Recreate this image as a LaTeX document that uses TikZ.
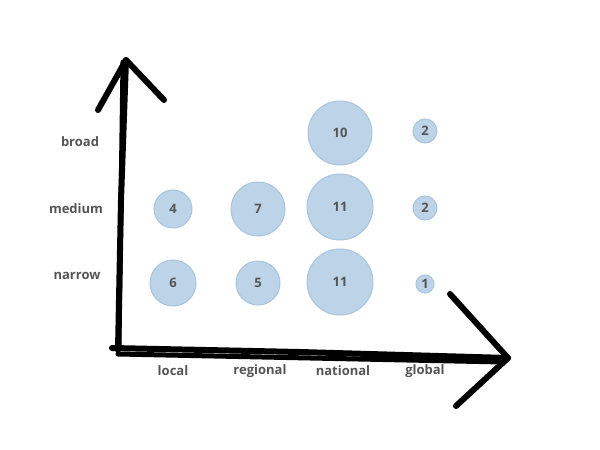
\documentclass[tikz,border=0pt]{standalone}
\usepackage{fontspec}
\setmainfont{Open Sans}
\definecolor{bfill}{HTML}{BCD3E8}
\definecolor{bdraw}{HTML}{A8C4E0}
\definecolor{tx}{HTML}{555555}
\begin{document}
\begin{tikzpicture}[x=1pt,y=-1pt,
  bub/.style={circle,fill=bfill,draw=bdraw,line width=1pt,inner sep=0pt,font=\fontsize{13}{14}\bfseries\selectfont,text=tx},
  lab/.style={font=\fontsize{13}{14}\bfseries\selectfont,text=tx},
  brush/.style={line width=6pt,line cap=round,line join=round}]
\useasboundingbox (0,0) rectangle (600,450);
\coordinate (o) at (118,350);
\coordinate (yt) at (126,60);
\coordinate (xt) at (508,358);
\draw[brush] (o) -- (121,200) -- (yt);
\draw[brush] (98,110) -- (yt) -- (164,100);
\draw[brush,line width=5pt] (119,345) -- (123,62);
\draw[brush] (112,348) -- (300,352) -- (xt);
\draw[brush,line width=5pt] (118,354) -- (503,362);
\draw[brush] (450,294) -- (xt) -- (456,406);
\node[bub,minimum size=64] at (340,133) {10};
\node[bub,minimum size=24] at (425,131) {2};
\node[bub,minimum size=38] at (173,209) {4};
\node[bub,minimum size=54] at (258,209) {7};
\node[bub,minimum size=66] at (340,207) {11};
\node[bub,minimum size=24] at (425,208) {2};
\node[bub,minimum size=46] at (173,283) {6};
\node[bub,minimum size=44] at (258,283) {5};
\node[bub,minimum size=66] at (340,282) {11};
\node[bub,minimum size=18] at (425,284) {1};
\node[lab] (b) at (80,142) {broad};
\node[lab] (m) at (76,209) {medium};
\node[lab] (n) at (77,276) {narrow};
\node[lab] (l) at (173,371) {local};
\node[lab] (r) at (260,371) {regional};
\node[lab] (na) at (343,371) {national};
\node[lab] (g) at (425,371) {global};
\end{tikzpicture}
\end{document}
